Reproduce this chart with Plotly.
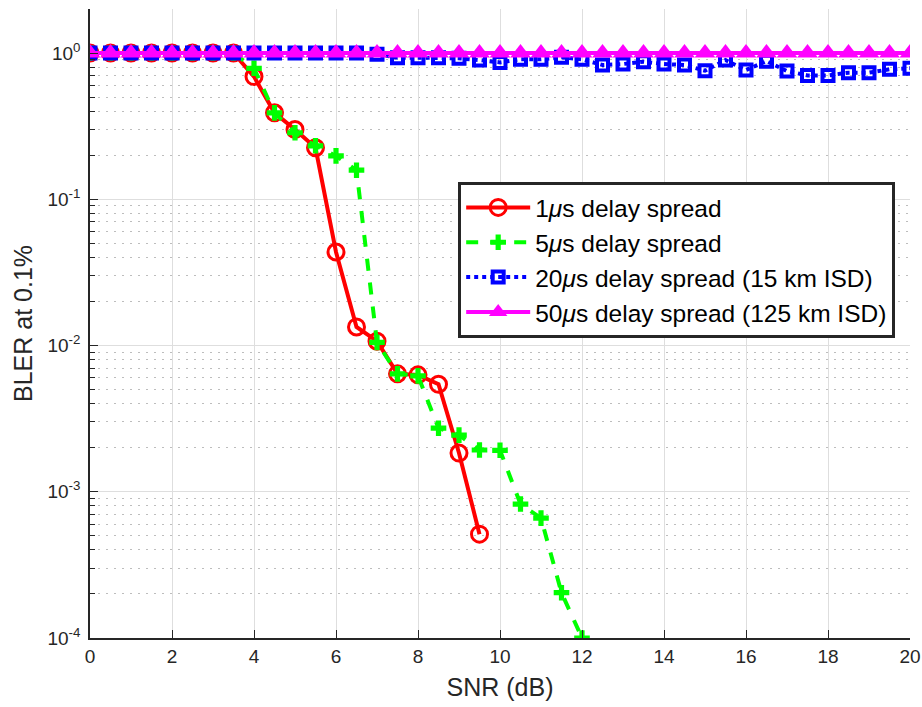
import plotly.graph_objects as go

snr = [i * 0.5 for i in range(41)]

snr_1us = [i * 0.5 for i in range(20)]  # 0 .. 9.5
bler_1us = [1.0, 1.0, 1.0, 1.0, 1.0, 1.0, 1.0, 1.0,
            0.69, 0.39, 0.30, 0.225, 0.0436, 0.0134, 0.0107,
            0.0064, 0.0063, 0.00543, 0.00184, 0.000513]

snr_5us = [i * 0.5 for i in range(25)]  # 0 .. 12
bler_5us = [1.0, 1.0, 1.0, 1.0, 1.0, 1.0, 1.0, 1.0,
            0.786, 0.39, 0.285, 0.232, 0.198, 0.158, 0.0105,
            0.0064, 0.0062, 0.00272, 0.00244, 0.00193, 0.00192,
            0.000824, 0.00066, 0.000204, 0.0001]

bler_20us = [1.0, 1.0, 1.0, 1.0, 1.0, 1.0, 1.0, 1.0, 1.0, 1.0,
             1.0, 1.0, 1.0, 1.0, 0.98, 0.93, 0.93, 0.93, 0.92,
             0.895, 0.863, 0.905, 0.905, 0.934, 0.905, 0.828, 0.841,
             0.872, 0.841, 0.828, 0.757, 0.895, 0.765, 0.88, 0.753,
             0.703, 0.703, 0.734, 0.734, 0.774, 0.786]

bler_50us = [1.0] * 41

names = ["1<i>μ</i>s delay spread",
         "5<i>μ</i>s delay spread",
         "20<i>μ</i>s delay spread (15 km ISD)",
         "50<i>μ</i>s delay spread (125 km ISD)"]

ytick_vals = [1e-4, 1e-3, 1e-2, 1e-1, 1]
ytick_text = ["10<sup>-4</sup>", "10<sup>-3</sup>", "10<sup>-2</sup>",
              "10<sup>-1</sup>", "10<sup>0</sup>"]
xtick_vals = list(range(0, 21, 2))

FONT = "Liberation Sans"

fig = go.Figure()
fig.add_trace(go.Scatter(
    x=snr_1us, y=bler_1us, name=names[0], mode="lines+markers",
    line=dict(color="#ff0000", width=4),
    marker=dict(symbol="circle-open", size=16, color="#ff0000",
                line=dict(width=3, color="#ff0000"))))
fig.add_trace(go.Scatter(
    x=snr_5us, y=bler_5us, name=names[1], mode="lines+markers",
    line=dict(color="#00ff00", width=4, dash="dash"),
    marker=dict(symbol="cross", size=13, color="#00ff00",
                line=dict(width=0))))
fig.add_trace(go.Scatter(
    x=snr, y=bler_20us, name=names[2], mode="lines+markers",
    line=dict(color="#0000ff", width=4, dash="dot"),
    marker=dict(symbol="square-open", size=11, color="#0000ff",
                line=dict(width=4, color="#0000ff"))))
fig.add_trace(go.Scatter(
    x=snr, y=bler_50us, name=names[3], mode="lines+markers",
    line=dict(color="#ff00ff", width=4),
    marker=dict(symbol="triangle-up", size=18, color="#ff00ff",
                line=dict(width=0))))

fig.update_layout(
    width=922, height=707,
    margin=dict(l=90, r=12, t=9, b=69, autoexpand=False),
    plot_bgcolor="white", paper_bgcolor="white",
    font=dict(family=FONT, color="#262626", size=19),
    showlegend=True,
    legend=dict(
        x=0.449, y=0.725, xanchor="left", yanchor="top",
        bgcolor="white", bordercolor="#262626", borderwidth=3,
        font=dict(size=24.5, color="#000000", family=FONT),
        tracegroupgap=0, itemwidth=64),
)

fig.update_xaxes(
    range=[0, 20], tickvals=xtick_vals, automargin=False,
    title=dict(text="SNR (dB)", font=dict(size=25, color="#262626"), standoff=13),
    showgrid=True, gridcolor="#dedede", gridwidth=1,
    showline=True, linecolor="#262626", linewidth=1.5,
    ticks="inside", ticklen=8, tickcolor="#262626",
    tickfont=dict(size=19, color="#262626", family=FONT),
    zeroline=False, mirror=False)

fig.update_yaxes(
    type="log", range=[-4, 0.30103], automargin=False,
    tickvals=ytick_vals, ticktext=ytick_text,
    title=dict(text="BLER at 0.1%", font=dict(size=25, color="#262626"), standoff=8),
    showgrid=True, gridcolor="#dedede", gridwidth=1,
    showline=True, linecolor="#262626", linewidth=1.5,
    ticks="inside", ticklen=8, tickcolor="#262626",
    tickfont=dict(size=19, color="#262626", family=FONT),
    ticklabelstandoff=4,
    minor=dict(ticks="inside", ticklen=5, tickcolor="#262626",
               showgrid=True, gridcolor="#bdbdbd", griddash="2px,6px", gridwidth=1,
               dtick="D1"),
    zeroline=False, mirror=False)

fig.write_html(
    "out.html",
    config={"displayModeBar": False},
    post_script=("document.body.style.margin='0';"
                 "document.body.style.overflow='hidden';"
                 "document.documentElement.style.overflow='hidden';"))
